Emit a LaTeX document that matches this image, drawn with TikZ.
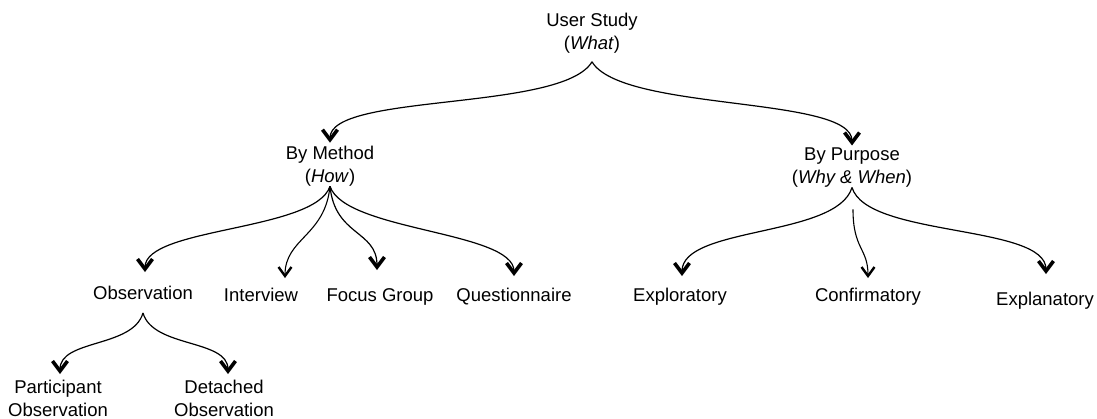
\documentclass[tikz,border=0pt]{standalone}
\usepackage{fontspec}
\setmainfont{Liberation Sans}
\usetikzlibrary{arrows.meta}
\tikzset{
  lbl/.style={inner sep=0pt, font=\fontsize{18.5}{23}\selectfont, text height=13.5pt, text depth=4pt},
  lbl2/.style={inner sep=0pt, font=\fontsize{18.5}{23}\selectfont, align=center},
  conn/.style={line width=1.2pt, -{Straight Barb[length=10pt,width=15pt,line width=3.6pt]}},
  thinconn/.style={line width=1.1pt, -{Straight Barb[length=9pt,width=13pt,line width=2.4pt]}}
}
\begin{document}
\begin{tikzpicture}[x=1pt,y=-1pt]
\useasboundingbox (0,0) rectangle (1097,419);
% nodes
\node[lbl2] (us) at (592,33.5) {User Study\\(\textit{What})};
\node[lbl2] (bm) at (330,166) {By Method\\(\textit{How})};
\node[lbl2] (bp) at (852,167.5) {By Purpose\\(\textit{Why \& When})};
\node[lbl] (obs) at (143,295) {Observation};
\node[lbl] (int) at (261,297) {Interview};
\node[lbl] (fg) at (380,297) {Focus Group};
\node[lbl] (qn) at (514,297) {Questionnaire};
\node[lbl] (exr) at (680,297) {Exploratory};
\node[lbl] (conf) at (868,297) {Confirmatory};
\node[lbl] (exn) at (1045,301) {Explanatory};
\node[lbl2] (par) at (58,398.5) {Participant\\Observation};
\node[lbl2] (det) at (224,398.5) {Detached\\Observation};
% connectors
\draw[conn] ([yshift=-8pt]us.south) .. controls +(-30,50) and +(0,-50) .. ([yshift=3pt]bm.north);
\draw[conn] ([yshift=-8pt]us.south) .. controls +(30,50) and +(0,-50) .. ([yshift=2pt]bp.north);
\draw[conn] (bm.south) .. controls +(-15,45) and +(0,-45) .. ([xshift=2pt,yshift=14pt]obs.north);
\draw[thinconn] (bm.south) .. controls +(-5,50) and +(0,-40) .. ([xshift=24pt,yshift=10pt]int.north);
\draw[conn] (bm.south) .. controls +(5,50) and +(0,-40) .. ([xshift=-3pt,yshift=18pt]fg.north);
\draw[conn] (bm.south) .. controls +(15,45) and +(0,-45) .. ([yshift=12pt]qn.north);
\draw[conn] (bp.south) .. controls +(-15,50) and +(0,-50) .. ([xshift=2pt,yshift=12pt]exr.north);
\draw[thinconn] ([xshift=1pt,yshift=-22pt]bp.south) .. controls +(0,40) and +(0,-30) .. ([yshift=10pt]conf.north);
\draw[conn] (bp.south) .. controls +(15,50) and +(0,-50) .. ([xshift=1pt,yshift=18pt]exn.north);
\draw[conn] ([yshift=-9pt]obs.south) .. controls +(-10,35) and +(0,-35) .. ([xshift=2pt,yshift=6pt]par.north);
\draw[conn] ([yshift=-9pt]obs.south) .. controls +(10,35) and +(0,-35) .. ([xshift=4pt,yshift=6pt]det.north);
\end{tikzpicture}
\end{document}
